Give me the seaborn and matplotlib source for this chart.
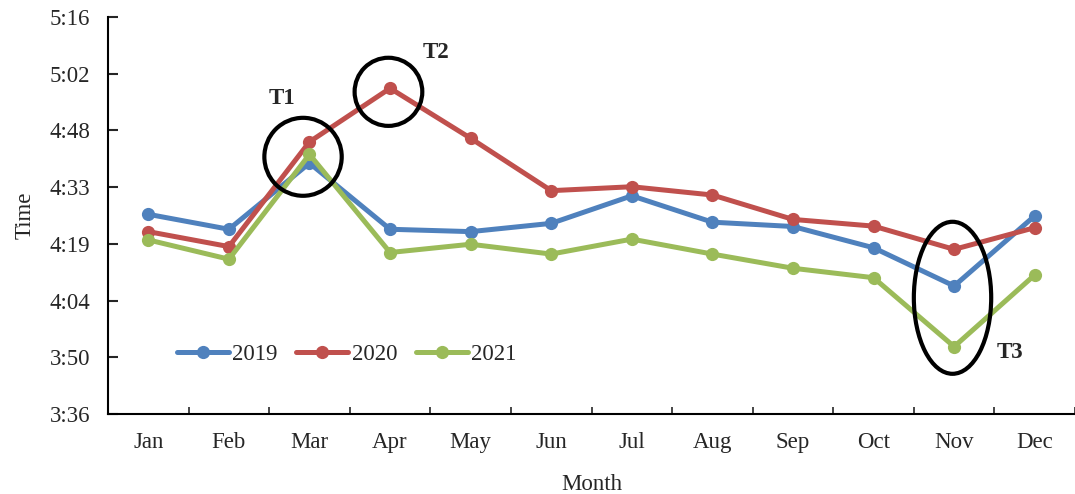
import numpy as np
import pandas as pd
import matplotlib.pyplot as plt
import seaborn as sns
from matplotlib.patches import Ellipse
from matplotlib.ticker import FixedLocator

# monthly times, in minutes (e.g. 4:26 -> 266)
months = ["Jan", "Feb", "Mar", "Apr", "May", "Jun",
          "Jul", "Aug", "Sep", "Oct", "Nov", "Dec"]
t2019 = [266.7, 262.9, 279.7, 262.9, 262.3, 264.4,
         271.4, 264.7, 263.6, 258.2, 248.5, 266.3]
t2020 = [262.3, 258.5, 285.1, 298.7, 286.0, 272.7,
         273.7, 271.6, 265.4, 263.7, 257.8, 263.3]
t2021 = [260.2, 255.3, 281.9, 257.0, 259.1, 256.6,
         260.4, 256.6, 253.0, 250.6, 233.1, 251.3]
years = ["2019", "2020", "2021"]
colors = ["#4F81BD", "#C0504D", "#9BBB59"]

# y axis as in Excel: 0.15 to 0.22 day, step 0.01 day (14.4 min)
y_ticks = [216 + 14.4 * i for i in range(8)]

# marked points: label, text pos, ellipse centre / size (data units)
marks = [
    ("T1", (1.66, 296.2), (1.92, 281.3), 0.96, 19.8),
    ("T2", (3.57, 307.9), (2.98, 297.8), 0.84, 17.3),
    ("T3", (10.69, 231.7), (9.98, 245.5), 0.96, 38.6),
]

df = pd.DataFrame({
    "Month": months * 3,
    "Time": t2019 + t2020 + t2021,
    "Year": [y for y in years for _ in months],
})

sns.set_style("white")
plt.rcParams["font.family"] = ["Liberation Serif", "DejaVu Serif"]
fs = 16.5

fig = plt.figure(figsize=(10.75, 4.94), dpi=100)
ax = fig.add_axes([0.1005, 0.162, 0.8995, 0.8036])

sns.lineplot(data=df, x="Month", y="Time", hue="Year", palette=colors,
             marker="o", markersize=9.5, markeredgewidth=0, linewidth=3.6,
             sort=False, ax=ax)

for label, tpos, centre, w, h in marks:
    ax.add_patch(Ellipse(centre, w, h, fill=False, edgecolor="black",
                         linewidth=3.0, zorder=5))
    ax.text(tpos[0], tpos[1], label, fontsize=fs, fontweight="bold",
            ha="center", va="center")

ax.set_xlim(-0.5, 11.5)
ax.set_ylim(y_ticks[0], y_ticks[-1])
ax.set_yticks(y_ticks)
ax.set_yticklabels([f"{int(m // 60)}:{int(m % 60):02d}" for m in y_ticks])
ax.set_xticks(range(len(months)))
ax.set_xticklabels(months)
ax.xaxis.set_minor_locator(FixedLocator(np.arange(0.5, 12, 1.0)))

ax.tick_params(axis="x", which="major", length=0, labelsize=fs, pad=13)
ax.tick_params(axis="x", which="minor", length=5, direction="in",
               width=1.2, bottom=True)
ax.tick_params(axis="y", length=7, width=1.5, direction="in",
               labelsize=fs, left=True, pad=13)

for side in ["top", "right"]:
    ax.spines[side].set_visible(False)
for side in ["left", "bottom"]:
    ax.spines[side].set_color("black")
    ax.spines[side].set_linewidth(1.5)

ax.set_xlabel("Month", fontsize=fs, labelpad=15)
ax.set_ylabel("Time", fontsize=fs, labelpad=10)

ax.legend(loc="center left", bbox_to_anchor=(0.05, 0.149), ncol=3,
          frameon=False, fontsize=fs, handlelength=2.27,
          columnspacing=0.8, handletextpad=0.15)

fig.savefig("out.png", dpi=100)
